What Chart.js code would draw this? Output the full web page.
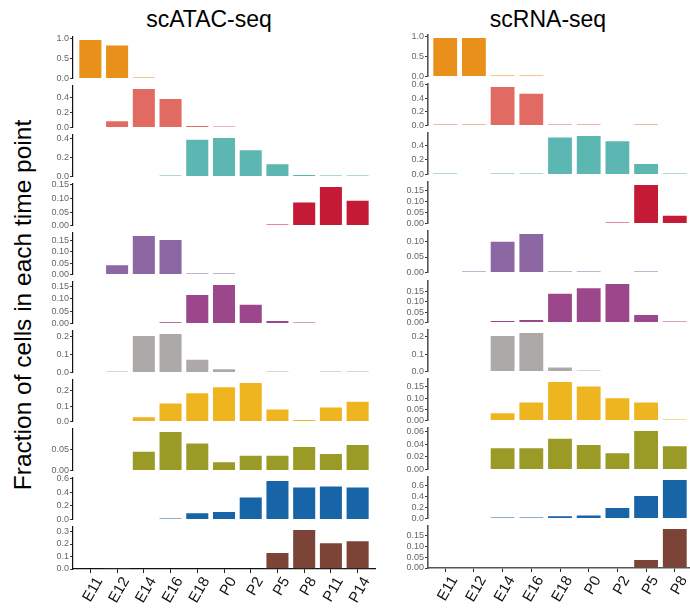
<!DOCTYPE html>
<html>
<head>
<meta charset="utf-8">
<script src="https://cdn.jsdelivr.net/npm/chart.js@4"></script>
<style>
  html, body { margin: 0; padding: 0; background: #fff; overflow: hidden; }
  body { width: 690px; height: 608px; position: relative; font-family: 'Liberation Sans', Arial, sans-serif; }
  canvas { position: absolute; }
  .title { position: absolute; top: 6px; width: 200px; text-align: center; font-size: 23px; line-height: 26px; color: #000; }
  .ylab { position: absolute; width: 420px; height: 28px; line-height: 28px; text-align: center; font-size: 24.5px;
          color: #000; transform: rotate(-90deg); transform-origin: 50% 50%; white-space: nowrap; }
</style>
</head>
<body>
<div class="title" style="left:109px">scATAC-seq</div>
<div class="title" style="left:448px">scRNA-seq</div>
<div class="ylab" style="left:-187px; top:291px">Fraction of cells in each time point</div>
<script>
// time points on the x axis of each column
const atacStages = ['E11', 'E12', 'E14', 'E16', 'E18', 'P0', 'P2', 'P5', 'P8', 'P11', 'P14'];
const rnaStages = ['E11', 'E12', 'E14', 'E16', 'E18', 'P0', 'P2', 'P5', 'P8'];

// one colour per cluster row, top to bottom
const clusterColors = ['#E8901A', '#E16B62', '#5CB6B1', '#C41A35', '#8C67A3', '#9C468B',
                       '#ADA9A9', '#EEB521', '#9A9B27', '#1765A7', '#7B4437'];

// fraction of cells per time point, one row per cluster
const atacFractions = [
  [1.0, 0.86, 0.01, 0, 0, 0, 0, 0, 0, 0, 0],
  [0, 0.098, 0.534, 0.40, 0.036, 0.018, 0, 0, 0, 0, 0],
  [0, 0, 0, 0.005, 0.40, 0.42, 0.29, 0.142, 0.028, 0.003, 0.003],
  [0, 0, 0, 0, 0, 0, 0, 0.006, 0.089, 0.146, 0.095],
  [0, 0.046, 0.175, 0.157, 0.006, 0.004, 0, 0, 0, 0, 0],
  [0, 0, 0, 0.008, 0.12, 0.16, 0.08, 0.015, 0.003, 0, 0],
  [0, 0.002, 0.208, 0.219, 0.076, 0.024, 0, 0.001, 0, 0.002, 0.002],
  [0, 0, 0.035, 0.123, 0.19, 0.228, 0.256, 0.084, 0.017, 0.097, 0.134],
  [0, 0, 0.046, 0.092, 0.065, 0.022, 0.037, 0.037, 0.057, 0.041, 0.062],
  [0, 0, 0, 0.01, 0.107, 0.127, 0.337, 0.58, 0.483, 0.50, 0.483],
  [0, 0.003, 0, 0, 0, 0, 0, 0.137, 0.32, 0.215, 0.231]
];
const rnaFractions = [
  [0.98, 0.98, 0.01, 0.005, 0, 0, 0, 0, 0],
  [0.01, 0.015, 0.58, 0.48, 0.01, 0.003, 0, 0.003, 0],
  [0.002, 0, 0.01, 0.012, 0.52, 0.54, 0.467, 0.157, 0.003],
  [0, 0, 0, 0, 0, 0, 0.005, 0.178, 0.04],
  [0, 0.0045, 0.102, 0.127, 0.004, 0.002, 0, 0.002, 0],
  [0, 0, 0.013, 0.018, 0.145, 0.171, 0.192, 0.042, 0.007],
  [0, 0, 0.21, 0.227, 0.029, 0.006, 0, 0, 0],
  [0, 0, 0.037, 0.085, 0.176, 0.156, 0.104, 0.085, 0.002],
  [0, 0, 0.035, 0.035, 0.05, 0.04, 0.027, 0.062, 0.038],
  [0, 0, 0.01, 0.012, 0.063, 0.074, 0.21, 0.43, 0.72],
  [0, 0, 0, 0, 0, 0, 0, 0.041, 0.184]
];

// y tick labels for each row
const atacTicks = [
  ['0.0', '0.5', '1.0'], ['0.0', '0.2', '0.4'], ['0.0', '0.2', '0.4'],
  ['0.00', '0.05', '0.10', '0.15'], ['0.00', '0.05', '0.10', '0.15'], ['0.00', '0.05', '0.10', '0.15'],
  ['0.0', '0.1', '0.2'], ['0.0', '0.1', '0.2'], ['0.00', '0.05'],
  ['0.0', '0.2', '0.4', '0.6'], ['0.0', '0.1', '0.2', '0.3']
];
const rnaTicks = [
  ['0.0', '0.5', '1.0'], ['0.0', '0.2', '0.4', '0.6'], ['0.0', '0.2', '0.4'],
  ['0.00', '0.05', '0.10', '0.15'], ['0.00', '0.05', '0.10'], ['0.00', '0.05', '0.10', '0.15'],
  ['0.0', '0.1', '0.2'], ['0.00', '0.05', '0.10', '0.15'], ['0.00', '0.02', '0.04', '0.06'],
  ['0.0', '0.2', '0.4', '0.6'], ['0.00', '0.05', '0.10', '0.15']
];

const FONT = "'Liberation Sans', Arial, sans-serif";
const PLOT_H = 42, PAD_TOP = 7, Y_W = 34, X_H = 40;

function panel(col, row, stages, values, ticks, color) {
  const isBottom = row === clusterColors.length - 1;
  const zero = col.zero0 + col.pitch * row;
  const canvas = document.createElement('canvas');
  canvas.width = Y_W + col.plotW + 10;
  canvas.height = PAD_TOP + PLOT_H + (isBottom ? X_H : 6);
  canvas.style.left = (col.axisX - Y_W) + 'px';
  canvas.style.top = Math.round(zero - PLOT_H - PAD_TOP) + 'px';
  document.body.appendChild(canvas);

  const axisMax = Math.max(...values) * 1.05;
  new Chart(canvas, {
    type: 'bar',
    data: {
      datasets: [{
        // zero fractions draw nothing; tiny ones still show as a thin pale line
        data: values.map((v, i) => ({ x: i, y: v || null })),
        backgroundColor: color,
        borderColor: 'rgba(255,255,255,0.5)',
        borderWidth: 1,
        minBarLength: 1.5,
        barPercentage: 0.9,
        categoryPercentage: 1
      }]
    },
    options: {
      responsive: false,
      animation: false,
      events: [],
      layout: { padding: { top: PAD_TOP, bottom: isBottom ? 0 : 6, left: 0, right: 10 } },
      plugins: { legend: { display: false }, tooltip: { enabled: false } },
      scales: {
        x: {
          type: 'linear', min: -col.expand, max: stages.length - 1 + col.expand,
          offset: false, display: isBottom,
          afterBuildTicks: s => { s.ticks = stages.map((_, i) => ({ value: i })); },
          afterFit: s => { if (isBottom) s.height = X_H; },
          ticks: { autoSkip: false, minRotation: 60, maxRotation: 60, padding: 1, labelOffset: 9,
                   callback: (v, i) => stages[i], color: '#111', font: { family: FONT, size: 15 } },
          grid: { offset: false, drawOnChartArea: false, tickLength: 4, color: '#222' },
          border: { color: col.lineColor, width: col.lineWidth }
        },
        y: {
          min: 0, max: axisMax,
          afterBuildTicks: s => { s.ticks = ticks.map(t => ({ value: parseFloat(t) })); },
          afterFit: s => { s.width = Y_W; },
          ticks: { autoSkip: false, padding: 1, callback: (v, i) => ticks[i],
                   color: '#666', font: { family: FONT, size: 9 } },
          grid: { drawOnChartArea: false, tickLength: 3, color: '#333' },
          border: { color: col.lineColor, width: col.lineWidth }
        }
      }
    }
  });
}

const atacCol = { axisX: 73, zero0: 79, pitch: 49, plotW: 302, expand: 0.65, lineColor: '#111', lineWidth: 1.2 };
const rnaCol = { axisX: 428, zero0: 76.7, pitch: 49.17, plotW: 264, expand: 0.6, lineColor: '#555', lineWidth: 1.6 };

clusterColors.forEach((c, r) => {
  panel(atacCol, r, atacStages, atacFractions[r], atacTicks[r], c);
  panel(rnaCol, r, rnaStages, rnaFractions[r], rnaTicks[r], c);
});
</script>
</body>
</html>
